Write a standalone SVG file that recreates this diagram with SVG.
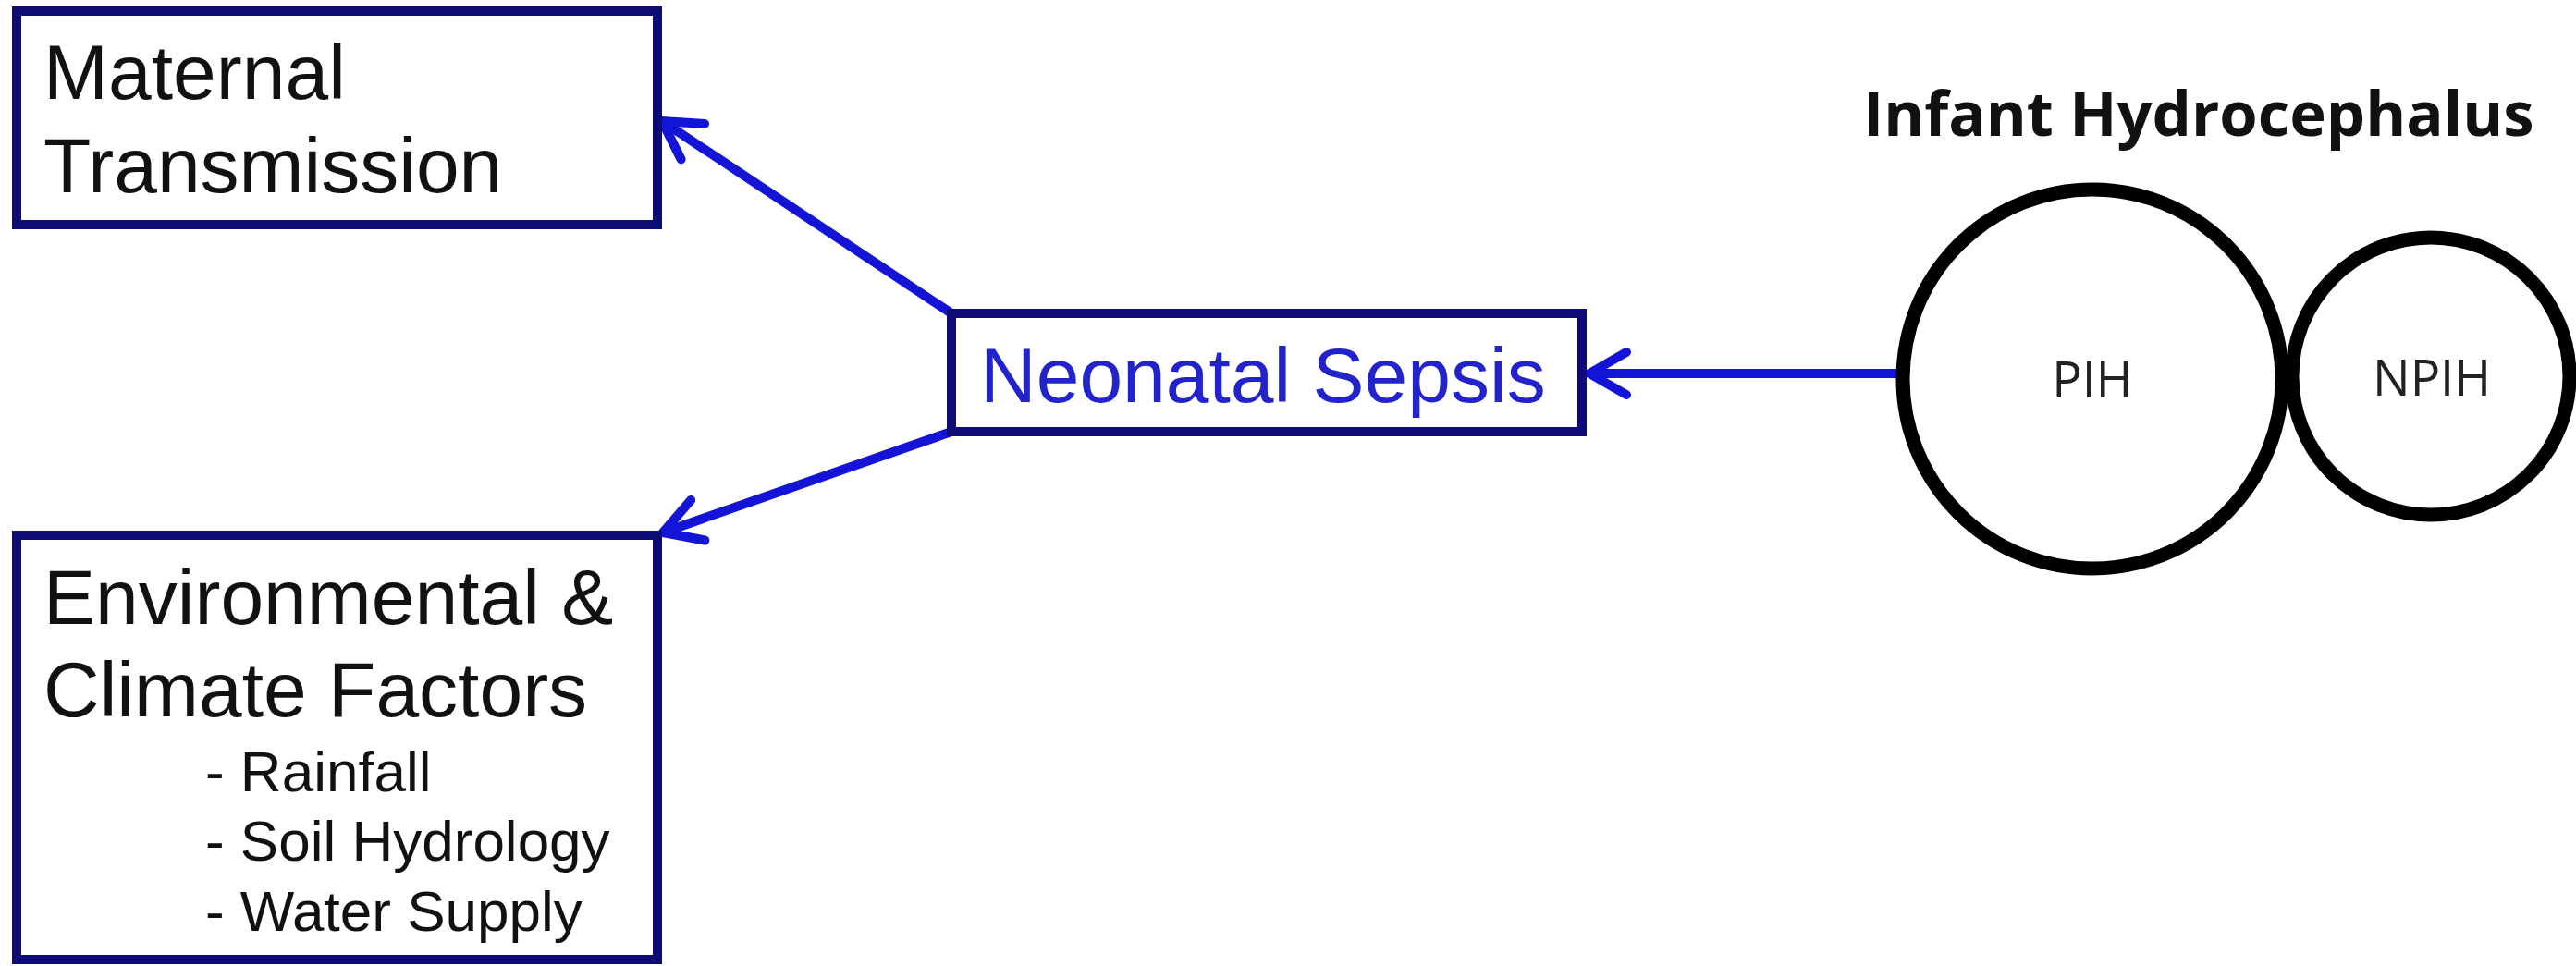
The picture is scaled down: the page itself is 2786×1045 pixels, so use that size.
<svg xmlns="http://www.w3.org/2000/svg" width="2786" height="1045" viewBox="0 0 2786 1045">
  <style>
    .box { fill: #ffffff; stroke: #0c0c74; stroke-width: 10; }
    .lbl { font-family: "Liberation Sans", Arial, sans-serif; font-size: 84px; fill: #111111; }
    .sub { font-family: "Liberation Sans", Arial, sans-serif; font-size: 62px; fill: #111111; }
    .blue { fill: #2323cc; }
    .circ { fill: #ffffff; stroke: #000000; stroke-width: 15; }
    .ctxt { font-family: "Open Sans", "Noto Sans", sans-serif; font-size: 54px; fill: #222222; text-anchor: middle; }
    .title { font-family: "Open Sans", "Noto Sans", sans-serif; font-weight: bold; font-size: 67px; fill: #111111; }
    .conn { stroke: #1414d6; stroke-width: 10; fill: none; }
  </style>
  <defs>
    <marker id="chev" markerUnits="userSpaceOnUse" viewBox="-52 -32 60 64" markerWidth="60" markerHeight="64" refX="0" refY="0" orient="auto">
      <path d="M -40 -23 L 0 0 L -40 23" fill="none" stroke="#1414d6" stroke-width="10" stroke-linecap="round" stroke-linejoin="round"/>
    </marker>
  </defs>
  <rect width="2786" height="1045" fill="#ffffff"/>

  <g id="connectors">
    <line class="conn" x1="1029" y1="339" x2="716" y2="131" marker-end="url(#chev)"/>
    <line class="conn" x1="1029" y1="467" x2="717" y2="576" marker-end="url(#chev)"/>
    <line class="conn" x1="2052" y1="404" x2="1719" y2="404" marker-end="url(#chev)"/>
  </g>

  <g id="maternal">
    <rect class="box" x="18" y="12" width="693" height="231"/>
    <text class="lbl" x="47" y="107">Maternal</text>
    <text class="lbl" x="47" y="208">Transmission</text>
  </g>

  <g id="environmental">
    <rect class="box" x="18" y="579" width="693" height="459"/>
    <text class="lbl" x="47" y="675">Environmental &amp;</text>
    <text class="lbl" x="47" y="775">Climate Factors</text>
    <text class="sub" x="222" y="856">- Rainfall</text>
    <text class="sub" x="222" y="931">- Soil Hydrology</text>
    <text class="sub" x="222" y="1007">- Water Supply</text>
  </g>

  <g id="neonatal">
    <rect class="box" x="1029" y="339" width="682" height="128"/>
    <text class="lbl blue" x="1060" y="435">Neonatal Sepsis</text>
  </g>

  <g id="title">
    <text class="title" x="2015" y="147">Infant Hydrocephalus</text>
  </g>

  <g id="pih">
    <circle class="circ" cx="2263" cy="410" r="205"/>
    <text class="ctxt" x="2263" y="430">PIH</text>
  </g>

  <g id="npih">
    <circle class="circ" cx="2629" cy="407" r="150"/>
    <text class="ctxt" x="2630" y="428">NPIH</text>
  </g>
</svg>
